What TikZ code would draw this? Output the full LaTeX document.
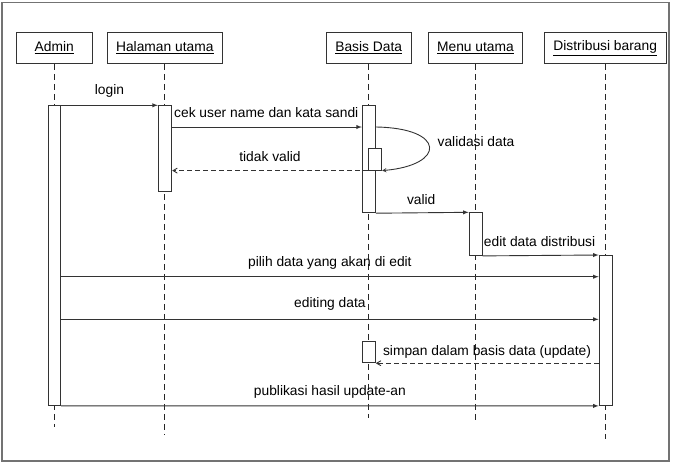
\documentclass[tikz,border=0pt]{standalone}
\usepackage{fontspec}
\setmainfont{Liberation Sans}
\usetikzlibrary{positioning,arrows}

\tikzset{
  obj/.style={draw=black!80,line width=0.9pt,minimum height=30.6pt,inner sep=0pt,font=\fontsize{13.8}{15}\selectfont},
  act/.style={draw=black!80,line width=0.9pt,fill=white,minimum width=13pt,inner sep=0pt,anchor=north},
  life/.style={draw=black!85,line width=0.9pt,dash pattern=on 6pt off 4pt},
  msg/.style={draw=black!80,line width=0.9pt,->,>=latex},
  reply/.style={draw=black!80,line width=0.9pt,dash pattern=on 5pt off 3pt,->,>=angle 60},
  lbl/.style={font=\fontsize{13.8}{15}\selectfont,inner sep=1pt}
}

\begin{document}
\begin{tikzpicture}[x=1pt,y=-1pt]
\useasboundingbox (0,0) rectangle (674,464);
\draw[black!55,line width=1.3pt] (2,2.3) rectangle (669,461);

\node[obj,minimum width=76pt] (admin) at (54.3,48) {\underline{Admin}};
\node[obj,minimum width=115.7pt] (hal) at (164.8,48) {\underline{Halaman utama}};
\node[obj,minimum width=85pt] (basis) at (368.7,48) {\underline{Basis Data}};
\node[obj,minimum width=94.4pt] (menu) at (475.5,48) {\underline{Menu utama}};
\node[obj,minimum width=121.7pt] (dist) at (605.2,48) {\underline{Distribusi barang}};

\coordinate (adminEnd) at (54.3,427);
\coordinate (halEnd) at (164.8,434);
\coordinate (basisEnd) at (368.7,418);
\coordinate (menuEnd) at (475.5,422);
\coordinate (distEnd) at (605.2,439);
\draw[life] (admin.south) -- (adminEnd);
\draw[life] (hal.south) -- (halEnd);
\draw[life] (basis.south) -- (basisEnd);
\draw[life] (menu.south) -- (menuEnd);
\draw[life] (dist.south) -- (distEnd);

\node[act,minimum width=12pt,minimum height=299.7pt] (actA) at (54.7,105.3) {};
\node[act,minimum width=13.4pt,minimum height=85.7pt] (actH) at (165,105.3) {};
\node[act,minimum height=107pt] (actB) at (368.8,105.3) {};
\node[act,minimum width=13.4pt,minimum height=21.7pt] (actB2) at (375,148) {};
\node[act,minimum height=42.7pt] (actM) at (475.6,212.3) {};
\node[act,minimum height=150pt] (actD) at (605.6,255) {};
\node[act,minimum height=21.6pt] (actB3) at (368.8,340.7) {};

\draw[msg] (actA.north east) to node[lbl,above=6pt]{login} (actH.north west);
\draw[msg] (actH.east |- 0,127) to (actB.west |- 0,127);
\node[lbl,anchor=west] (cekLbl) at (173,113) {cek user name dan kata sandi};
\draw[msg,>=stealth] (actB.east |- 0,127) .. controls (446,128) and (446,165) .. (actB2.south east);
\node[lbl] (valLbl) at (476,142) {validasi data};
\draw[reply] (actB2.south west) to node[lbl,above=8pt]{tidak valid} (actH.east |- actB2.south);
\draw[msg] (actB.south east) to node[lbl,above=7pt,xshift=-1pt]{valid} (actM.north west);
\draw[msg] (actM.south east) to node[lbl,above=7pt,xshift=-1pt]{edit data distribusi} (actD.north west);
\draw[msg] (actA.east |- 0,276.7) to node[lbl,above=6pt,pos=0.5]{pilih data yang akan di edit} (actD.west |- 0,276.7);
\draw[msg] (actA.east |- 0,319.3) to node[lbl,above=7pt]{editing data} (actD.west |- 0,319.3);
\draw[reply] (actD.west |- actB3.south) to (actB3.south east);
\node[lbl] (simpanLbl) at (487,352.3) {simpan dalam basis data (update)};
\draw[msg] (actA.south east) to node[lbl,above=6pt]{publikasi hasil update-an} (actD.south west);

\end{tikzpicture}
\end{document}
